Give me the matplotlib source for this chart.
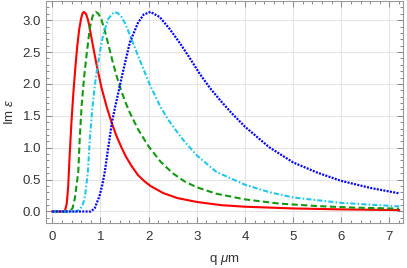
import matplotlib.pyplot as plt
from matplotlib.ticker import MultipleLocator

plt.rcParams['font.family'] = ['Liberation Sans', 'DejaVu Sans']
plt.rcParams['mathtext.fontset'] = 'custom'
plt.rcParams['mathtext.it'] = 'Liberation Sans:italic'
plt.rcParams['mathtext.rm'] = 'Liberation Sans'

# values
q_red = [0, 0.26, 0.30, 0.33, 0.36, 0.40, 0.44, 0.48, 0.52, 0.56, 0.60, 0.63, 0.655,
         0.70, 0.74, 0.78, 0.815, 0.92, 1.02, 1.13, 1.23, 1.33, 1.44, 1.53, 1.64,
         1.78, 1.92, 2.04, 2.3, 2.6, 3.0, 3.5, 4.0, 5.0, 6.0, 7.2]
eps_red = [0, 0, 0.12, 0.38, 0.86, 1.42, 1.88, 2.26, 2.60, 2.86, 3.03, 3.11, 3.13,
           3.10, 3.01, 2.87, 2.72, 2.30, 1.95, 1.64, 1.40, 1.19, 1.00, 0.86, 0.72,
           0.57, 0.47, 0.40, 0.29, 0.21, 0.15, 0.10, 0.075, 0.048, 0.033, 0.022]

q_green = [0, 0.36, 0.42, 0.47, 0.54, 0.57, 0.61, 0.66, 0.71, 0.78, 0.84, 0.905, 0.96,
           1.02, 1.09, 1.16, 1.25, 1.33, 1.42, 1.51, 1.61, 1.78, 2.0, 2.25, 2.5,
           2.75, 3.0, 3.4, 4.0, 4.7, 5.5, 6.3, 7.2]
eps_green = [0, 0, 0.05, 0.21, 0.62, 1.14, 1.66, 2.10, 2.44, 2.88, 3.07, 3.13, 3.10,
             3.01, 2.84, 2.63, 2.36, 2.14, 1.92, 1.73, 1.55, 1.29, 1.02, 0.78, 0.60,
             0.47, 0.38, 0.28, 0.19, 0.125, 0.085, 0.06, 0.045]

q_cyan = [0, 0.50, 0.58, 0.64, 0.68, 0.74, 0.78, 0.83, 0.88, 0.92, 1.00, 1.06, 1.16,
          1.285, 1.36, 1.44, 1.52, 1.61, 1.72, 1.82, 2.03, 2.24, 2.40, 2.55, 2.72,
          3.0, 3.41, 4.0, 4.52, 5.0, 6.0, 7.2]
eps_cyan = [0, 0, 0.04, 0.12, 0.24, 0.62, 1.14, 1.60, 1.95, 2.18, 2.55, 2.78, 3.02,
            3.13, 3.11, 3.05, 2.94, 2.77, 2.56, 2.37, 1.98, 1.65, 1.45, 1.29, 1.12,
            0.88, 0.62, 0.42, 0.30, 0.22, 0.135, 0.08]

q_blue = [0, 0.80, 0.88, 0.98, 1.04, 1.09, 1.16, 1.24, 1.30, 1.44, 1.61, 1.78, 1.90,
          2.04, 2.23, 2.44, 2.65, 2.86, 3.07, 3.27, 3.48, 3.69, 4.0, 4.5, 5.0, 5.5,
          6.0, 6.6, 7.2]
eps_blue = [0, 0, 0.05, 0.24, 0.42, 0.62, 0.99, 1.40, 1.62, 2.10, 2.65, 2.96, 3.09,
            3.13, 3.05, 2.86, 2.64, 2.40, 2.15, 1.94, 1.75, 1.57, 1.33, 1.01, 0.77, 0.61,
            0.48, 0.37, 0.285]

fig = plt.figure(figsize=(4.07, 2.68), dpi=100)
ax = fig.add_axes([0.113, 0.168, 0.877, 0.828])

ax.plot(q_red, eps_red, color='#ff0000', lw=1.5)
ax.plot(q_green, eps_green, color='#119911', lw=1.5, linestyle=(0, (3.0, 1.6)))
ax.plot(q_cyan, eps_cyan, color='#22c8e8', lw=1.5, linestyle=(0, (2.5, 1.0, 0.8, 1.0)))
ax.plot(q_blue, eps_blue, color='#0000ff', lw=1.6, linestyle=(0, (0.9, 0.6)))

ax.set_xlim(-0.13, 7.28)
ax.set_ylim(-0.18, 3.3)
ax.xaxis.set_major_locator(MultipleLocator(1))
ax.xaxis.set_minor_locator(MultipleLocator(0.2))
ax.yaxis.set_major_locator(MultipleLocator(0.5))
ax.yaxis.set_minor_locator(MultipleLocator(0.1))
ax.yaxis.set_major_formatter(lambda v, p: f'{v:.1f}')

ax.grid(True, which='major', color='#e4e4e4', lw=0.8)
ax.set_axisbelow(True)
for s in ax.spines.values():
    s.set_color('#999999')
    s.set_linewidth(0.8)
ax.tick_params(which='both', direction='in', top=True, right=True, color='#888888',
               labelsize=9.5, labelcolor='#333333', width=0.7)
ax.tick_params(which='major', length=4)
ax.tick_params(which='minor', length=2.2)
ax.tick_params(axis='x', pad=6)

ax.set_xlabel('q $\\mathit{\\mu}$m', fontsize=9.5, color='#333333', labelpad=7)
ax.set_ylabel('Im $\\mathit{\\epsilon}$', fontsize=9.5, color='#333333', labelpad=5)

fig.savefig('out.png', dpi=100)
